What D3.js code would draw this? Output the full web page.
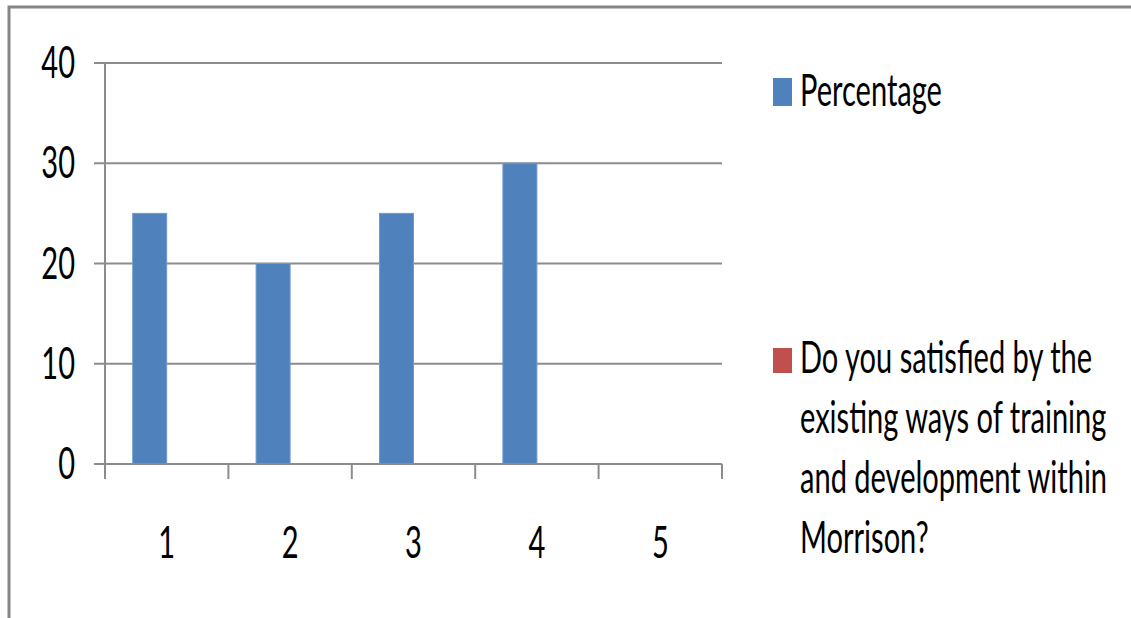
<!DOCTYPE html>
<html><head><meta charset="utf-8">
<script src="https://cdn.jsdelivr.net/npm/d3@7"></script>
<style>html,body{margin:0;padding:0;background:#fff;} svg{display:block;}</style>
</head><body>
<svg id="c" width="1131" height="618"></svg>
<script>
const categories = ["1","2","3","4","5"];
const seriesNames = ["Percentage","Do you satisfied by the existing ways of training and development within Morrison?"];
const percentage = [25,20,25,30,0];
const question = [0,0,0,0,0];
const yTicks = [0,10,20,30,40];
const legendLines = ["Do you satisfied by the","existing ways of training","and development within","Morrison?"];
const colors = ["#4f81bd","#c0504d"];

(function(){
const svg = d3.select("#c");
const FONT = "Lato, 'Open Sans', sans-serif";
const FS = 44, SX = 0.66;

// frame
svg.append("rect").attr("x",9).attr("y",7).attr("width",1300).attr("height",800)
  .attr("fill","none").attr("stroke","#868686").attr("stroke-width",3);

const pL=105,pR=722,pT=63,pB=464;
const x = d3.scaleBand().domain(categories).range([pL,pR]).paddingInner(0).paddingOuter(0);
const xs = d3.scaleBand().domain(seriesNames).range([0,x.step()]).paddingInner(0).paddingOuter(0.815);
const y = d3.scaleLinear().domain([0,40]).range([pB,pT]);

function txt(g, s, tx, ty, anchor){
  return g.append("text").attr("transform",`translate(${tx},${ty}) scale(${SX},1)`)
    .attr("text-anchor",anchor).attr("font-family",FONT).attr("font-size",FS).attr("fill","#000").text(s);
}

// gridlines
svg.append("g").selectAll("line").data(yTicks.filter(d=>d>0)).join("line")
  .attr("x1",94).attr("x2",pR).attr("y1",d=>y(d)).attr("y2",d=>y(d))
  .attr("stroke","#8c8c8c").attr("stroke-width",2);

// bars
const data = categories.map((c,i)=>({c, vals:[percentage[i],question[i]]}));
const gb = svg.append("g");
data.forEach(d=>{
  d.vals.forEach((v,j)=>{
    if(v<=0) return;
    gb.append("rect").attr("x",x(d.c)+xs(seriesNames[j])).attr("width",xs.bandwidth())
      .attr("y",y(v)).attr("height",y(0)-y(v)).attr("fill",colors[j])
      .attr("stroke","#6f9ad0").attr("stroke-width",1);
  });
});

// axes
svg.append("line").attr("x1",pL).attr("x2",pL).attr("y1",pT).attr("y2",pB)
  .attr("stroke","#8c8c8c").attr("stroke-width",2);
svg.append("line").attr("x1",94).attr("x2",pR).attr("y1",pB).attr("y2",pB)
  .attr("stroke","#8c8c8c").attr("stroke-width",2);
const xTickPos = categories.map(c=>x(c)).concat([pR]);
svg.append("g").selectAll("line").data(xTickPos).join("line")
  .attr("x1",d=>d).attr("x2",d=>d).attr("y1",pB).attr("y2",pB+15)
  .attr("stroke","#8c8c8c").attr("stroke-width",2);

// labels
const gl = svg.append("g");
yTicks.forEach(t=>txt(gl, String(t), 75, y(t)+15, "end"));
categories.forEach(c=>txt(gl, c, x(c)+x.bandwidth()/2, 558, "middle"));

// legend
const lg = svg.append("g");
lg.append("rect").attr("x",773).attr("y",78).attr("width",19).attr("height",28).attr("fill",colors[0]);
txt(lg, seriesNames[0], 800, 106, "start");
lg.append("rect").attr("x",773).attr("y",348).attr("width",19).attr("height",25).attr("fill",colors[1]);
legendLines.forEach((l,i)=>txt(lg, l, 800, 373+i*60, "start"));
})();
</script>
</body></html>
